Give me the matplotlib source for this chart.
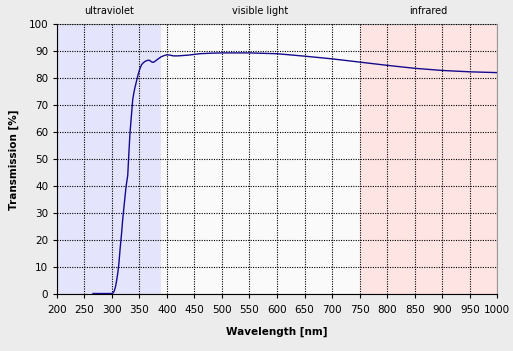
import numpy as np
import matplotlib
matplotlib.use("Agg")
import matplotlib.pyplot as plt

wavelength = [266, 280, 290, 300, 303, 305, 307, 309, 311, 313, 315, 318, 320,
              323, 326, 329, 331, 333, 336, 338, 340, 342, 345, 348, 351, 354,
              357, 360, 363, 366, 369, 372, 375, 378, 381, 385, 390, 395, 400,
              405, 412, 420, 440, 460, 480, 500, 550, 600, 650, 700, 750, 800,
              850, 900, 950, 1000]
transmission = [0.3, 0.3, 0.3, 0.3, 0.6, 1.5, 3.0, 5.3, 8.0, 11.5, 16.5, 23.0,
                28.0, 34.0, 40.0, 44.0, 52.0, 59.5, 67.0, 72.0, 74.5, 76.5,
                79.0, 81.5, 83.5, 85.0, 85.7, 86.2, 86.5, 86.7, 86.6, 86.1,
                85.9, 86.2, 86.7, 87.3, 88.0, 88.4, 88.7, 88.6, 88.3, 88.3,
                88.6, 89.1, 89.3, 89.4, 89.4, 89.1, 88.2, 87.2, 86.0, 84.8,
                83.7, 82.9, 82.4, 82.1]

regions = ["ultraviolet", "visible light", "infrared"]
regionEdges = [200, 390, 750, 1000]
regionColors = ["#e4e4fc", "#fafafa", "#ffe4e4"]

xTicks = list(range(200, 1001, 50))
yTicks = list(range(0, 101, 10))

plt.rcParams['font.family'] = ['DejaVu Sans']

fig = plt.figure(figsize=(5.13, 3.51), dpi=100)
fig.patch.set_facecolor("#ececec")
ax = fig.add_axes([0.1105, 0.1615, 0.8589, 0.7693])

for i, name in enumerate(regions):
    lo, hi = regionEdges[i], regionEdges[i + 1]
    ax.axvspan(lo, hi, color=regionColors[i], zorder=0, lw=0)
    ax.text((lo + hi) / 2, 1.03, name, transform=ax.get_xaxis_transform(),
            ha="center", va="bottom", fontsize=7)

ax.plot(wavelength, transmission, color="#140a8c", lw=1.0, zorder=3)

ax.set_xlim(200, 1000)
ax.set_ylim(0, 100)
ax.set_xticks(xTicks)
ax.set_yticks(yTicks)
ax.tick_params(labelsize=7.5, length=3, width=0.8, direction="out", pad=3)
ax.tick_params(axis="x", pad=5)
ax.grid(True, color="black", linestyle=(0, (1, 1.2)), lw=0.8, zorder=1)
ax.set_axisbelow(False)

ax.spines["left"].set_color("black")
ax.spines["bottom"].set_color("black")
ax.spines["top"].set_color("#9a9a9a")
ax.spines["right"].set_color("#9a9a9a")
for s in ax.spines.values():
    s.set_linewidth(0.8)

ax.set_xlabel("Wavelength [nm]", fontsize=7.5, fontweight="bold", labelpad=8)
ax.set_ylabel("Transmission [%]", fontsize=7.5, fontweight="bold", labelpad=7)

fig.savefig("out.png", dpi=100, facecolor=fig.get_facecolor())
